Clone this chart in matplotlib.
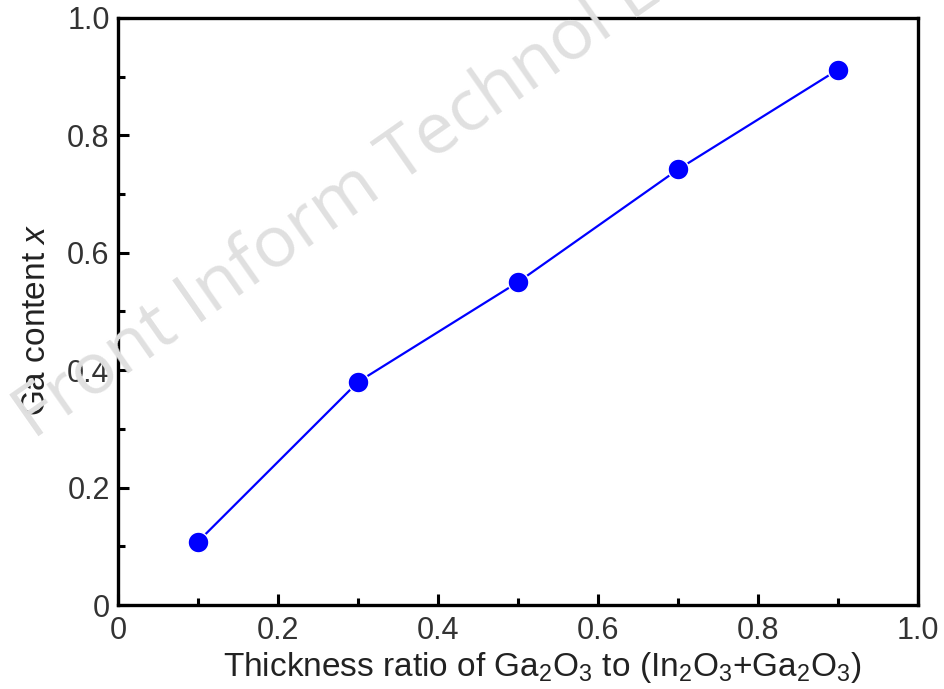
import matplotlib
matplotlib.use("Agg")
import matplotlib.pyplot as plt
from matplotlib.ticker import MultipleLocator, FixedLocator

plt.rcParams['font.family'] = ['Liberation Sans', 'DejaVu Sans']
plt.rcParams['mathtext.fontset'] = 'custom'
plt.rcParams['mathtext.rm'] = 'Liberation Sans'
plt.rcParams['mathtext.it'] = 'Liberation Sans:italic'

thickness_ratio = [0.1, 0.3, 0.5, 0.7, 0.9]
ga_content = [0.108, 0.38, 0.55, 0.742, 0.912]
x_ticks = [0, 0.2, 0.4, 0.6, 0.8, 1.0]
x_tick_labels = ["0", "0.2", "0.4", "0.6", "0.8", "1.0"]
y_ticks = [0, 0.2, 0.4, 0.6, 0.8, 1.0]
y_tick_labels = ["0", "0.2", "0.4", "0.6", "0.8", "1.0"]

fig = plt.figure(figsize=(9.45, 6.89), dpi=100)
ax = fig.add_axes([0.1249, 0.1219, 0.8465, 0.852])

ax.plot(thickness_ratio, ga_content, color='#0000ff', lw=1.6, marker='o',
        markersize=15, markerfacecolor='#0000ff', markeredgecolor='white',
        markeredgewidth=1.0, zorder=3)

ax.set_xlim(0, 1.0)
ax.set_ylim(0, 1.0)
ax.xaxis.set_major_locator(FixedLocator(x_ticks))
ax.set_xticklabels(x_tick_labels)
ax.yaxis.set_major_locator(FixedLocator(y_ticks))
ax.set_yticklabels(y_tick_labels)
ax.xaxis.set_minor_locator(MultipleLocator(0.1))
ax.yaxis.set_minor_locator(MultipleLocator(0.1))
ax.tick_params(which='both', direction='in', top=False, right=False,
               width=2.2, labelsize=22, colors='black', labelcolor='#333333')
ax.tick_params(which='major', length=8)
ax.tick_params(axis='y', which='major', pad=6)
ax.tick_params(axis='x', which='major', pad=8)
ax.tick_params(which='minor', length=5)
for s in ax.spines.values():
    s.set_linewidth(2.4)

ax.set_xlabel(r'Thickness ratio of Ga$_2$O$_3$ to (In$_2$O$_3$+Ga$_2$O$_3$)',
              fontsize=24, color='#222222', labelpad=3)
ax.xaxis.label.set_x(0.53)
ax.set_ylabel(r'Ga content $x$', fontsize=24, color='#222222', labelpad=11)
ax.yaxis.label.set_y(0.485)

fig.text(0.035, 0.361, 'Front Inform Technol Eng', fontsize=52, color='#e0e0e0',
         family=['Open Sans', 'DejaVu Sans'],
         rotation=35, rotation_mode='anchor', ha='left', va='baseline', zorder=5)

fig.savefig('out.png', dpi=100)
